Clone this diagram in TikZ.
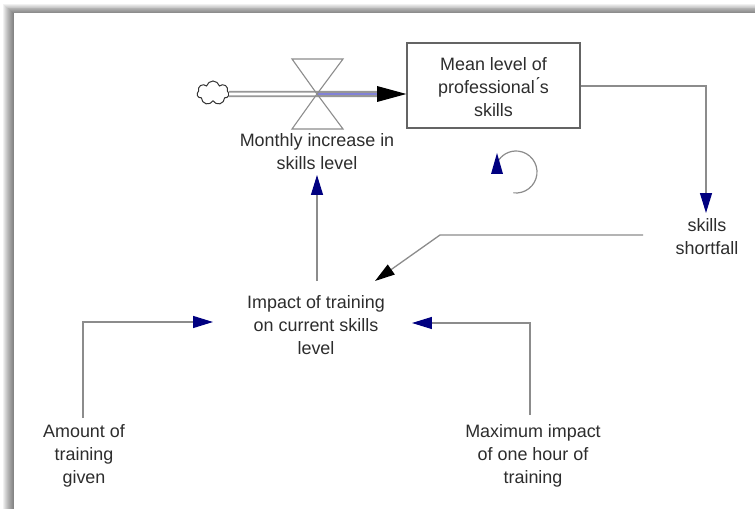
\documentclass[tikz,border=0pt]{standalone}
\usepackage{fontspec}
\setmainfont{Liberation Sans}
\usetikzlibrary{arrows.meta,shapes.symbols}
\definecolor{navyhead}{RGB}{0,0,128}
\definecolor{linegray}{RGB}{140,140,140}
\definecolor{boxgray}{RGB}{100,100,100}
\definecolor{textgray}{RGB}{45,45,45}
\definecolor{pipeblue}{RGB}{130,130,215}
\begin{document}
\begin{tikzpicture}[x=1bp,y=-1bp,
  lbl/.style={align=center,text=textgray,inner sep=0pt,
    font=\fontsize{18}{23}\selectfont},
  link/.style={draw=linegray,line width=1.3pt},
  navyarrow/.style={-{Triangle[length=20pt,width=12pt,fill=navyhead,color=navyhead]}},
  blackarrow/.style={-{Triangle[length=20pt,width=12pt,fill=black,color=black]}},
  stockbox/.style={draw=boxgray,line width=1.2pt,minimum width=173bp,minimum height=85bp,
    inner sep=0pt},
  valveline/.style={draw=linegray,line width=1.1pt}]
\useasboundingbox (0,0) rectangle (755,509);
% white sheet with a soft shadow along its top and left edges
\fill[white] (-5,-5) rectangle (770,525);
\foreach \i in {0,...,10}{
  \fill[black,opacity=0.055] (3+\i,4+\i*0.9) rectangle (14,13);
  \fill[black,opacity=0.055] (14,4+\i*0.9) rectangle (770,13);
  \fill[black,opacity=0.055] (3+\i,13) rectangle (14,525);
}
\fill[white] (14,13) rectangle (770,525);

% stock
\node[stockbox] (stock) at (493.5,85.5) {};
\node[lbl] (stocktxt) at (493.5,87) {Mean level of\\professional\'{}s\\skills};

% source cloud
\node[cloud,cloud puffs=7,draw=black!80,line width=1pt,minimum width=32bp,minimum height=24bp,
  inner sep=0pt,aspect=1.4] (src) at (213,93) {};

% flow pipe
\coordinate (valve) at (317,94);
\coordinate (pipeend) at (378,94);
\draw[draw=linegray!90,line width=6.2pt] (src.east) ++(0,1) -- (pipeend);
\draw[white,line width=2.6pt] (src.east) ++(0,1) -- (valve);
\draw[pipeblue,line width=2.2pt] (valve) -- (pipeend);
\fill[black] (377,86) -- (377,102) -- (stock.west |- 0,94) -- cycle;

% valve (bow tie)
\draw[valveline,line join=miter] (292,59) -- (343,59) -- (valve) -- cycle;
\draw[valveline,line join=miter] (292,129) -- (343,129) -- (valve) -- cycle;

% auxiliary variables
\node[lbl] (flow) at (317,152) {Monthly increase in\\skills level};
\node[lbl] (short) at (707,237) {skills\\shortfall};
\node[lbl] (impact) at (316,325) {Impact of training\\on current skills\\level};
\node[lbl] (amount) at (84,456) {Amount of\\training\\given};
\node[lbl] (maximum) at (533,456) {Maximum  impact\\of one hour of\\training};

% stock -> skills shortfall
\coordinate (b1) at (706,86);
\coordinate (shorttip) at (706,213);
\draw[link,navyarrow] (stock.east |- b1) -- (b1) -- (shorttip);

% skills shortfall -> impact
\coordinate (s0) at (643,235);
\coordinate (s1) at (440,235);
\coordinate (s2) at (375,281);
\draw[link,blackarrow] (s0) -- (s1) -- (s2);

% impact -> flow
\coordinate (i0) at (317,281);
\coordinate (i1) at (317,175);
\draw[link,navyarrow] (i0) -- (i1);

% amount -> impact
\coordinate (a0) at (83,418);
\coordinate (a1) at (83,322);
\coordinate (a2) at (213,322);
\draw[link,navyarrow] (a0) -- (a1) -- (a2);

% maximum -> impact
\coordinate (m0) at (530,415);
\coordinate (m1) at (530,323);
\coordinate (m2) at (412,323);
\draw[link,navyarrow] (m0) -- (m1) -- (m2);

% loop marker
\coordinate (loopc) at (516,172);
\draw[draw=linegray,line width=1.2pt] (loopc) ++(97:21) arc[start angle=97,end angle=-155,radius=21];
\fill[navyhead] (497,153) -- (491,174) -- (503,174) -- cycle;
\end{tikzpicture}
\end{document}
